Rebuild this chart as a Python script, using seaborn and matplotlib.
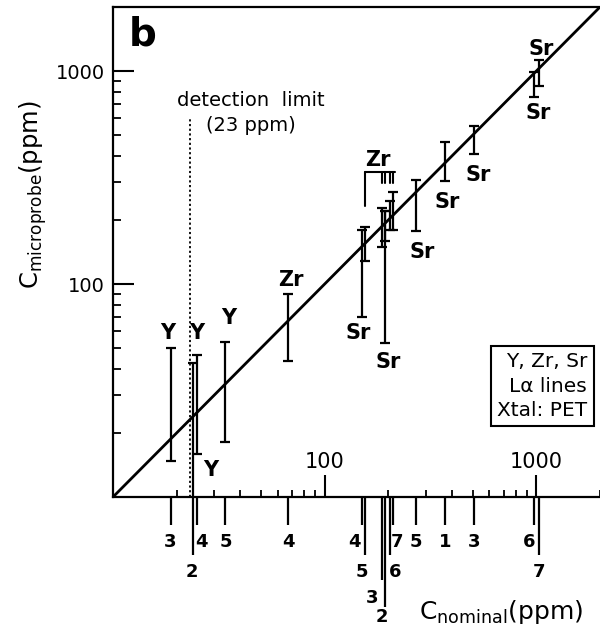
import matplotlib
matplotlib.use("Agg")
import matplotlib.pyplot as plt
import numpy as np
import seaborn as sns
from matplotlib.transforms import blended_transform_factory

sns.set_theme(style="ticks")
plt.rcParams["font.family"] = ["DejaVu Sans"]
plt.rcParams["mathtext.fontset"] = "dejavusans"
for key in ["text.color", "axes.labelcolor", "xtick.color", "ytick.color", "axes.edgecolor"]:
    plt.rcParams[key] = "black"

# ---- measurements (ppm): nominal concentration, lower / upper microprobe bound ----
y_nominal = [18.7, 24.0, 25.0, 34.0]
y_low = [14.7, 6.0, 16.0, 18.1]
y_high = [50.1, 42.6, 46.4, 53.7]

zr_nominal = [67.3, 155.0, 186.0, 192.0, 203.0, 210.0]
zr_low = [43.5, 128.0, 150.0, 159.0, 179.0, 179.0]
zr_high = [90.2, 185.0, 227.0, 220.0, 245.0, 271.0]

sr_nominal = [150.0, 192.0, 270.0, 372.0, 508.0, 975.0, 1025.0]
sr_low = [70.0, 52.8, 176.6, 304.0, 406.0, 758.0, 855.0]
sr_high = [179.0, 220.0, 309.7, 465.6, 553.8, 989.0, 1125.0]

# sample numbers marked under the nominal-concentration axis
sample_nominal = [18.7, 24.0, 25.0, 34.0, 67.3, 150.0, 155.0, 186.0, 192.0,
                  203.0, 210.0, 270.0, 372.0, 508.0, 975.0, 1025.0]
sample_labels = ["3", "2", "4", "5", "4", "4", "5", "3", "2",
                 "6", "7", "5", "1", "3", "6", "7"]

detection_limit = 23.0
axis_range = [10.0, 2000.0]
axis_ticks = [100, 1000]
axis_tick_labels = ["100", "1000"]

# ---- layout of the annotations ----
# row of each sample marker (1 = shortest) and horizontal nudge of its number (px)
marker_row = [1, 2, 1, 1, 1, 1, 2, 3, 4, 2, 1, 1, 1, 1, 1, 2]
marker_dx = [0, -2, 4, 0, 0, -7, -3, -10, -3, 5, 4, 0, 0, 0, -5, 0]
row_line_px = {1: 28, 2: 58, 3: 83, 4: 110}
row_text_px = {1: 45, 2: 75, 3: 101, 4: 120}

# element labels next to the error bars (data coordinates)
element_labels = [
    ("Y", 18.2, 58.9), ("Y", 24.8, 58.9), ("Y", 29.0, 13.4), ("Y", 35.3, 69.3),
    ("Zr", 69.3, 104.5), ("Zr", 178.6, 383.0),
    ("Sr", 143.9, 58.9), ("Sr", 199.6, 43.0), ("Sr", 288.5, 141.6),
    ("Sr", 378.6, 243.0), ("Sr", 530.8, 325.0), ("Sr", 1054.0, 1271.0),
    ("Sr", 1019.0, 637.0),
]

fig = plt.figure(figsize=(6.0, 6.35), dpi=100)
ax = fig.add_axes([0.1883, 0.2173, 0.8117, 0.7717])
ax.set_xscale("log")
ax.set_yscale("log")
ax.set_xlim(axis_range)
ax.set_ylim(axis_range)

# 1:1 line
sns.lineplot(x=axis_range, y=axis_range, ax=ax, color="black", lw=2.0)

# error bars
def bars(xs, lo, hi):
    xs, lo, hi = map(np.asarray, (xs, lo, hi))
    mid = np.sqrt(lo * hi)
    ax.errorbar(xs, mid, yerr=[mid - lo, hi - mid], fmt="none", ecolor="black",
                elinewidth=1.6, capsize=3.6, capthick=1.6)

bars(y_nominal, y_low, y_high)
bars(zr_nominal, zr_low, zr_high)
bars(sr_nominal, sr_low, sr_high)

bold = dict(fontsize=15, fontweight="bold", color="black", ha="center", va="center")
for txt, xv, yv in element_labels:
    ax.text(xv, yv, txt, **bold)

# bracket grouping the Zr results of the cluster
br_y, leg_long, leg_short = 336.0, 232.0, 299.0
ax.plot([zr_nominal[1], 215.0], [br_y, br_y], color="black", lw=1.5)
ax.plot([zr_nominal[1], zr_nominal[1]], [br_y, leg_long], color="black", lw=1.5)
for xv in zr_nominal[2:]:
    ax.plot([xv, xv], [br_y, leg_short], color="black", lw=1.5)

# detection limit
ax.plot([detection_limit, detection_limit], [axis_range[0], 600.0], color="black",
        lw=1.3, linestyle=(0, (1.2, 1.4)))
ax.text(45.0, 730.0, "detection  limit", fontsize=14, ha="center", va="center")
ax.text(45.0, 555.0, "(23 ppm)", fontsize=14, ha="center", va="center")

# panel letter
ax.text(0.06, 0.943, "b", transform=ax.transAxes, fontsize=28, fontweight="bold",
        ha="center", va="center")

# info box
ax.text(0.881, 0.2265, "Y, Zr, Sr\nL\u03b1 lines\nXtal: PET", transform=ax.transAxes,
        fontsize=14.5, ha="center", va="center", multialignment="right", linespacing=1.35,
        bbox=dict(boxstyle="square,pad=0.32", fc="white", ec="black", lw=1.5))

# axes styling
for side in ["left", "bottom", "top"]:
    ax.spines[side].set_linewidth(1.6)
    ax.spines[side].set_color("black")
ax.spines["right"].set_visible(False)

ax.set_yticks(axis_ticks)
ax.set_yticklabels(axis_tick_labels)
ax.tick_params(axis="y", which="major", direction="in", length=15, width=1.5,
               labelsize=14, pad=6, colors="black", right=False)
ax.tick_params(axis="y", which="minor", direction="in", length=6, width=1.3,
               colors="black", right=False)
ax.set_xticks(axis_ticks)
ax.set_xticklabels([])
ax.tick_params(axis="x", which="major", direction="in", length=16, width=1.5,
               colors="black", top=False)
ax.tick_params(axis="x", which="minor", direction="in", length=5, width=1.3,
               colors="black", top=False)

bx = blended_transform_factory(ax.transData, ax.transAxes)
for xv, lab in zip(axis_ticks, axis_tick_labels):
    ax.text(xv, 35 / 490, lab, transform=bx, fontsize=15, ha="center", va="center")

# sample markers under the axis
ax_h = 490.0
for xv, lab, row, dx in zip(sample_nominal, sample_labels, marker_row, marker_dx):
    ax.plot([xv, xv], [0, -row_line_px[row] / ax_h], transform=bx, color="black",
            lw=1.6, clip_on=False, solid_capstyle="butt")
    ax.annotate(lab, xy=(xv, -row_text_px[row] / ax_h), xycoords=bx,
                xytext=(dx * 0.72, 0), textcoords="offset points",
                fontsize=13, fontweight="bold", ha="center", va="center")

# axis titles
ax.text(0.797, -0.235, r"C$_{\mathregular{nominal}}$(ppm)", transform=ax.transAxes,
        fontsize=18, ha="center", va="center")
ax.text(-0.164, 0.616, r"C$_{\mathregular{microprobe}}$(ppm)", transform=ax.transAxes,
        fontsize=17.5, ha="center", va="center", rotation=90)

fig.savefig("out.png", dpi=100)
